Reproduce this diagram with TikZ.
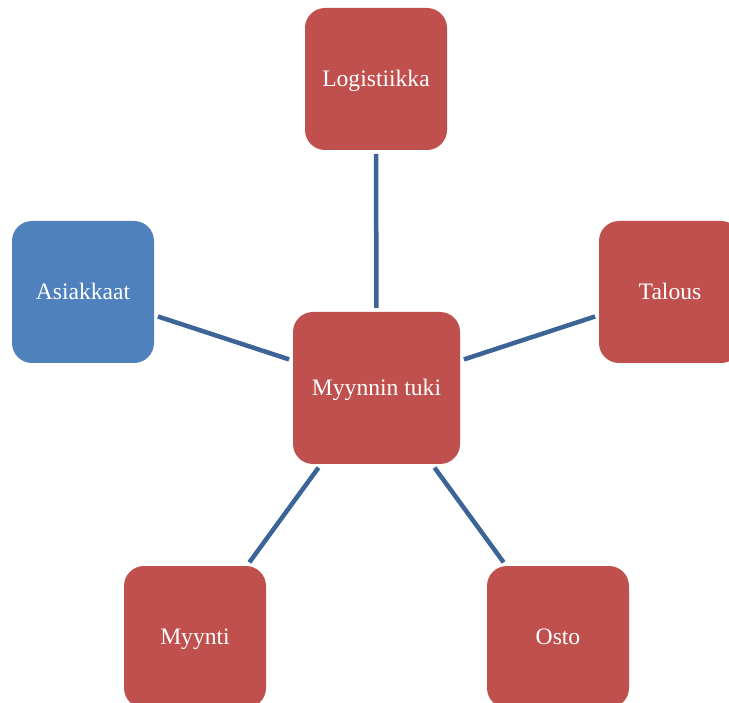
\documentclass[tikz,border=0pt]{standalone}
\usepackage{fontspec}
\setmainfont{Liberation Serif}
\usepackage{tikz}
\usetikzlibrary{positioning}
\definecolor{boxred}{HTML}{C0504D}
\definecolor{boxblue}{HTML}{4F81BD}
\definecolor{linkblue}{HTML}{3C6496}

\begin{document}
\begin{tikzpicture}[x=1pt, y=-1pt,
  unit/.style={rectangle, rounded corners=20pt, minimum width=142pt,
               minimum height=142pt, inner sep=0pt, outer sep=2pt,
               fill=boxred, text=white, font=\fontsize{23.6}{28}\selectfont,
               text height=15.6pt, text depth=0pt},
  hub/.style={unit, minimum width=167pt, minimum height=152pt},
  link/.style={draw=linkblue, line width=4.5pt, shorten <=2pt, shorten >=2pt},
]
  \useasboundingbox (0,0) rectangle (729,703);
  \clip (0,0) rectangle (729,703);

  \node[hub]  (tuki)   at (376.5,388) {Myynnin tuki};
  \node[unit] (logi)   at (376,79)    {Logistiikka};
  \node[unit, fill=boxblue] (asiak) at (83,292) {Asiakkaat};
  \node[unit] (talous) at (670,292)   {Talous};
  \node[unit] (myynti) at (195,637)   {Myynti};
  \node[unit] (osto)   at (558,637)   {Osto};

  \draw[link] (tuki) -- (logi);
  \draw[link] (tuki) -- (asiak);
  \draw[link] (tuki) -- (talous);
  \draw[link] (tuki) -- (myynti);
  \draw[link] (tuki) -- (osto);
\end{tikzpicture}
\end{document}
